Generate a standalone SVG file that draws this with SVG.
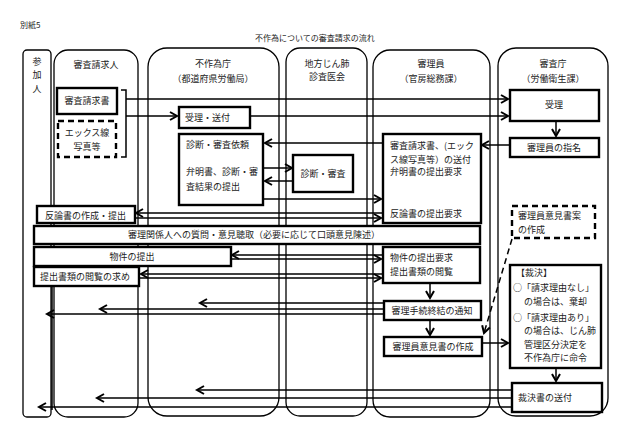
<svg xmlns="http://www.w3.org/2000/svg" width="630" height="441" viewBox="0 0 630 441">
<defs>
<marker id="ah" markerUnits="userSpaceOnUse" markerWidth="10" markerHeight="10" refX="7" refY="4.5" orient="auto" overflow="visible">
<path d="M0,0.5 L7,4.5 L0,8.5" fill="none" stroke="#000" stroke-width="2"/>
</marker>
</defs>
<style>
text{font-family:"Noto Sans CJK JP","Noto Sans",sans-serif;font-size:9px;fill:#222}
.c{text-anchor:middle}
.lane{fill:none;stroke:#000;stroke-width:1.3}
.box{fill:#fff;stroke:#000;stroke-width:2.4}
.dash{fill:#fff;stroke:#000;stroke-width:2.4;stroke-dasharray:6,4}
.ln{fill:none;stroke:#000;stroke-width:1.5}
.ar{fill:none;stroke:#000;stroke-width:1.5;marker-end:url(#ah)}
</style>
<rect width="630" height="441" fill="#fff"/>
<text x="20" y="28" style="font-size:8px">別紙5</text>
<text x="315" y="41" class="c" style="font-size:8px">不作為についての審査請求の流れ</text>

<g id="lanes">
<g id="lane-sankanin"><rect class="lane" x="23" y="50" width="28" height="367" rx="4"/>
<text x="37" y="65" class="c">参</text><text x="37" y="78" class="c">加</text><text x="37" y="92" class="c">人</text></g>
<g id="lane-seikyunin"><rect class="lane" x="54" y="50" width="84" height="367" rx="14"/>
<text x="96" y="68" class="c">審査請求人</text></g>
<g id="lane-fusakui"><rect class="lane" x="148" y="48" width="131" height="368" rx="19"/>
<text x="213" y="67" class="c">不作為庁</text><text x="213" y="82" class="c">（都道府県労働局）</text></g>
<g id="lane-shinsaikai"><rect class="lane" x="286" y="48" width="81" height="368" rx="14"/>
<text x="327" y="67" class="c">地方じん肺</text><text x="327" y="80" class="c">診査医会</text></g>
<g id="lane-shinriin"><rect class="lane" x="373" y="50" width="117" height="367" rx="17"/>
<text x="431" y="67" class="c">審理員</text><text x="431" y="82" class="c">（官房総務課）</text></g>
<g id="lane-shinsacho"><rect class="lane" x="498" y="48" width="110" height="368" rx="18"/>
<text x="553" y="67" class="c">審査庁</text><text x="553" y="82" class="c">（労働衛生課）</text></g>
</g>

<g id="connectors">
<path class="ln" d="M121,90 H126 V157 H121" stroke-width="2"/>
<path class="ar" d="M126,99 H508"/>
<path class="ar" d="M126,116 H177"/>
<path class="ar" d="M250,116 H508"/>
<path class="ar" d="M556,121 V136"/>
<path class="ar" d="M510,145 H482"/>
<path class="ar" d="M383,143 H265"/>
<path class="ar" d="M263,168 H292"/>
<path class="ar" d="M293,181 H265"/>
<path class="ar" d="M263,199 H381"/>
<path class="ar" d="M383,213 H136"/>
<path class="ar" d="M135,218 H381"/>
<path class="ar" d="M383,255 H232"/>
<path class="ar" d="M231,259 H381"/>
<path class="ar" d="M383,274 H141"/>
<path class="ar" d="M139,278 H381"/>
<path class="ar" d="M430,283 V298"/>
<path class="ar" d="M383,303 H200"/>
<path class="ar" d="M383,309 H100"/>
<path class="ar" d="M383,314 H47"/>
<path class="ar" d="M430,320 V335"/>
<path class="ar" d="M512,239 L484,333" stroke-width="2.2" stroke-dasharray="6,4"/>
<path class="ar" d="M481,343 H508"/>
<path class="ar" d="M556,368 V381"/>
<path class="ar" d="M511,390 H197"/>
<path class="ar" d="M511,398 H97"/>
<path class="ar" d="M511,407 H39"/>
<path class="ln" d="M52,286 V410" stroke-width="2"/>
</g>

<g id="n-seikyusho"><rect class="box" x="57" y="88" width="60" height="26" stroke-width="3"/><text x="87" y="104" class="c">審査請求書</text></g>
<g id="n-xray"><rect class="dash" x="58" y="121" width="58" height="36"/><text x="87" y="136" class="c">エックス線</text><text x="87" y="150" class="c">写真等</text></g>
<g id="n-juri-sofu"><rect class="box" x="179" y="107" width="71" height="21"/><text x="185" y="121">受理・送付</text></g>
<g id="n-irai"><rect class="box" x="179" y="134" width="84" height="71"/><text x="186" y="148">診断・審査依頼</text><text x="186" y="175">弁明書、診断・審</text><text x="186" y="190">査結果の提出</text></g>
<g id="n-shindan"><rect class="box" x="293" y="155" width="60" height="37"/><text x="323" y="177" class="c">診断・審査</text></g>
<g id="n-hanron"><rect class="box" x="37" y="206" width="98" height="17"/><text x="45" y="219">反論書の作成・提出</text></g>
<g id="n-shitsumon"><rect class="box" x="34" y="226" width="446" height="18"/><text x="254" y="238" class="c">審理関係人への質問・意見聴取（必要に応じて口頭意見陳述）</text></g>
<g id="n-bukken"><rect class="box" x="34" y="247" width="197" height="19"/><text x="132" y="260" class="c">物件の提出</text></g>
<g id="n-etsuran"><rect class="box" x="34" y="267" width="105" height="19"/><text x="40" y="280">提出書類の閲覧の求め</text></g>
<g id="n-juri"><rect class="box" x="510" y="90" width="89" height="31"/><text x="554" y="108" class="c">受理</text></g>
<g id="n-shimei"><rect class="box" x="510" y="138" width="89" height="19"/><text x="554" y="151" class="c">審理員の指名</text></g>
<g id="n-sofu"><rect class="box" x="383" y="134" width="98" height="89"/><text x="390" y="149">審査請求書、(エック</text><text x="390" y="163">ス線写真等）の送付</text><text x="390" y="175">弁明書の提出要求</text><text x="390" y="217">反論書の提出要求</text></g>
<g id="n-bukken-yokyu"><rect class="box" x="383" y="247" width="97" height="36"/><text x="390" y="261">物件の提出要求</text><text x="390" y="275">提出書類の閲覧</text></g>
<g id="n-shuketsu"><rect class="box" x="384" y="301" width="97" height="19"/><text x="432" y="314" class="c">審理手続終結の通知</text></g>
<g id="n-ikensho"><rect class="box" x="384" y="337" width="98" height="19"/><text x="433" y="350" class="c">審理員意見書の作成</text></g>
<g id="n-ikensho-an"><rect class="dash" x="512" y="206" width="83" height="32"/><text x="518" y="219">審理員意見書案</text><text x="518" y="233">の作成</text></g>
<g id="n-saiketsu"><rect class="box" x="510" y="265" width="91" height="103"/>
<text x="516" y="276">【裁決】</text>
<text x="513" y="291">○「請求理由なし」</text>
<text x="524" y="305">の場合は、棄却</text>
<text x="513" y="321">○「請求理由あり」</text>
<text x="524" y="334">の場合は、じん肺</text>
<text x="524" y="348">管理区分決定を</text>
<text x="524" y="361">不作為庁に命令</text></g>
<g id="n-saiketsusho"><rect class="box" x="512" y="383" width="90" height="29"/><text x="518" y="401">裁決書の送付</text></g>
</svg>
